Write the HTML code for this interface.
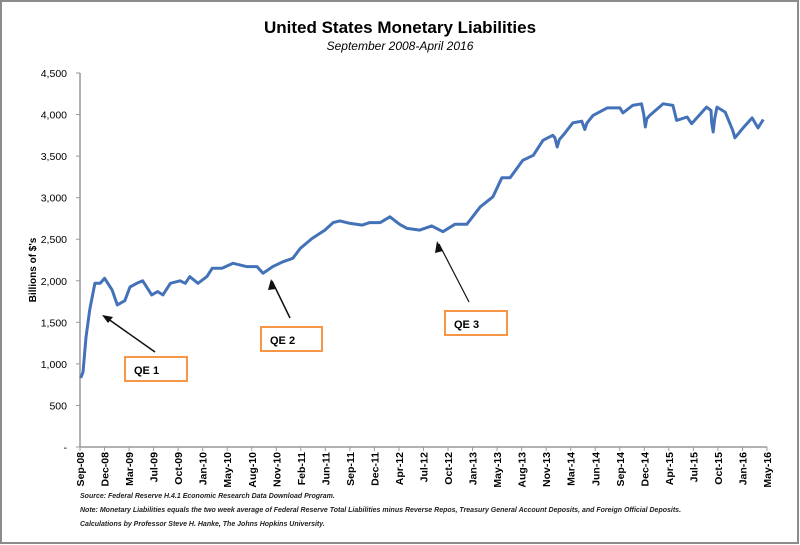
<!DOCTYPE html>
<html><head><meta charset="utf-8"><style>
body{margin:0;background:#fff}
svg{display:block;font-family:"Liberation Sans",sans-serif}
</style></head><body>
<svg width="800" height="545" viewBox="0 0 800 545">
<rect x="1" y="1" width="797" height="542" fill="#fff" stroke="#8c8c8c" stroke-width="2"/>
<text x="400" y="33" text-anchor="middle" font-size="17" font-weight="bold">United States Monetary Liabilities</text>
<text x="400" y="50" text-anchor="middle" font-size="12" font-style="italic">September 2008-April 2016</text>
<text transform="translate(36,270) rotate(-90)" text-anchor="middle" font-size="10" font-weight="bold">Billions of $'s</text>
<g id="axes"></g>
<g id="series"></g>
<g>
<rect x="125" y="357" width="62" height="24" fill="#fff" stroke="#f79646" stroke-width="2"/>
<text x="134" y="374" font-size="11" font-weight="bold">QE 1</text>
<line x1="155" y1="352" x2="104" y2="316" stroke="#111" stroke-width="1.5"/>
<polygon points="102,315 113,317 108,323" fill="#111"/>
</g>
<g>
<rect x="261" y="327" width="61" height="24" fill="#fff" stroke="#f79646" stroke-width="2"/>
<text x="270" y="344" font-size="11" font-weight="bold">QE 2</text>
<line x1="290" y1="318" x2="272" y2="281" stroke="#111" stroke-width="1.5"/>
<polygon points="271,279 276,289 268,290" fill="#111"/>
</g>
<g>
<rect x="445" y="311" width="62" height="24" fill="#fff" stroke="#f79646" stroke-width="2"/>
<text x="454" y="328" font-size="11" font-weight="bold">QE 3</text>
<line x1="469" y1="302" x2="439" y2="244" stroke="#111" stroke-width="1.2"/>
<polygon points="437,241 443,251 435,253" fill="#111"/>
</g>
<g font-size="7" font-style="italic" font-weight="bold" fill="#222">
<text x="80" y="498">Source: Federal Reserve H.4.1 Economic Research Data Download Program.</text>
<text x="80" y="512">Note: Monetary Liabilities equals the two week average of Federal Reserve Total Liabilities minus Reverse Repos, Treasury General Account Deposits, and Foreign Official Deposits.</text>
<text x="80" y="526">Calculations by Professor Steve H. Hanke, The Johns Hopkins University.</text>
</g>
</svg>
<script>
const xLabels=["Sep-08","Dec-08","Mar-09","Jul-09","Oct-09","Jan-10","May-10","Aug-10","Nov-10","Feb-11","Jun-11","Sep-11","Dec-11","Apr-12","Jul-12","Oct-12","Jan-13","May-13","Aug-13","Nov-13","Mar-14","Jun-14","Sep-14","Dec-14","Apr-15","Jul-15","Oct-15","Jan-16","May-16"].filter((d,i)=>true);
const yTicks=[0,500,1000,1500,2000,2500,3000,3500,4000,4500];
const yTickLabels=["-","500","1,000","1,500","2,000","2,500","3,000","3,500","4,000","4,500"];
const months=[0.1,0.4,0.8,1.3,2.0,2.7,3.3,4.3,5.0,6.0,6.7,7.6,8.4,9.6,10.4,11.1,12.1,13.4,14.1,14.7,15.8,17.0,17.7,19.0,20.5,22.3,23.7,24.5,25.8,27.2,28.5,29.5,31.1,32.8,33.9,34.8,36.2,37.8,38.8,40.2,41.5,42.8,43.8,45.5,47.1,48.6,50.2,51.8,53.6,55.3,56.5,57.6,59.3,60.7,62.0,63.3,63.6,63.9,64.2,64.7,66.0,67.2,67.4,67.6,67.9,68.7,70.6,72.3,72.7,74.0,75.2,75.5,75.7,75.9,76.3,78.1,79.4,79.9,81.3,81.9,83.9,84.5,84.6,84.8,85.0,85.3,86.4,87.4,87.7,88.8,90.0,90.8,91.5];
const values=[830,900,1320,1650,1970,1970,2030,1890,1710,1760,1925,1970,2000,1830,1870,1830,1970,2000,1970,2050,1970,2050,2150,2150,2210,2170,2170,2090,2170,2230,2270,2390,2510,2610,2700,2720,2690,2670,2700,2700,2770,2680,2630,2610,2660,2590,2680,2680,2890,3010,3240,3240,3450,3510,3690,3750,3720,3610,3700,3750,3900,3920,3870,3820,3900,3990,4080,4080,4020,4110,4130,4000,3850,3950,3990,4130,4110,3930,3970,3890,4090,4050,3900,3790,3950,4090,4030,3810,3720,3840,3960,3840,3940];
const NS="http://www.w3.org/2000/svg";
const X0=80,X1=767,Y0=447,Y1=73,TOTAL_MONTHS=92,YMAX=4500;
const xM=m=>X0+(m/TOTAL_MONTHS)*(X1-X0);
const xIdx=i=>X0+i*(X1-X0)/(xLabels.length-1);
const y=v=>Y0-(v/YMAX)*(Y0-Y1);
function mk(t,a,p){const e=document.createElementNS(NS,t);for(const k in a)e.setAttribute(k,a[k]);p.appendChild(e);return e;}
const ax=document.getElementById('axes');
const yAxis=mk('line',{x1:X0,y1:Y1,x2:X0,y2:Y0,stroke:'#999','stroke-width':1.5},ax);


const xAxis=mk('line',{x1:X0,y1:Y0,x2:X1,y2:Y0,stroke:'#999','stroke-width':1.5},ax);


yTicks.forEach((v,i)=>{
 mk('line',{x1:X0-4,y1:y(v),x2:X0,y2:y(v),stroke:'#999'},ax);
 const t=mk('text',{x:67,y:y(v)+4,'text-anchor':'end','font-size':10.5},ax);
 t.textContent=yTickLabels[i];
 
 
});
xLabels.forEach((l,i)=>{
 const x=xIdx(i);
 mk('line',{x1:x,y1:Y0,x2:x,y2:Y0+4,stroke:'#999'},ax);
 const t=mk('text',{transform:`translate(${x+4},${Y0+5}) rotate(-90)`,'text-anchor':'end','font-size':10.5,'font-weight':'bold'},ax);
 t.textContent=l;
 
 
});
const d=months.map((m,i)=>(i?'L':'M')+xM(m).toFixed(1)+','+y(values[i]).toFixed(1)).join(' ');
const p=mk('path',{d:d,fill:'none',stroke:'#4472b8','stroke-width':3,'stroke-linejoin':'round'},document.getElementById('series'));


</script>
</body></html>
